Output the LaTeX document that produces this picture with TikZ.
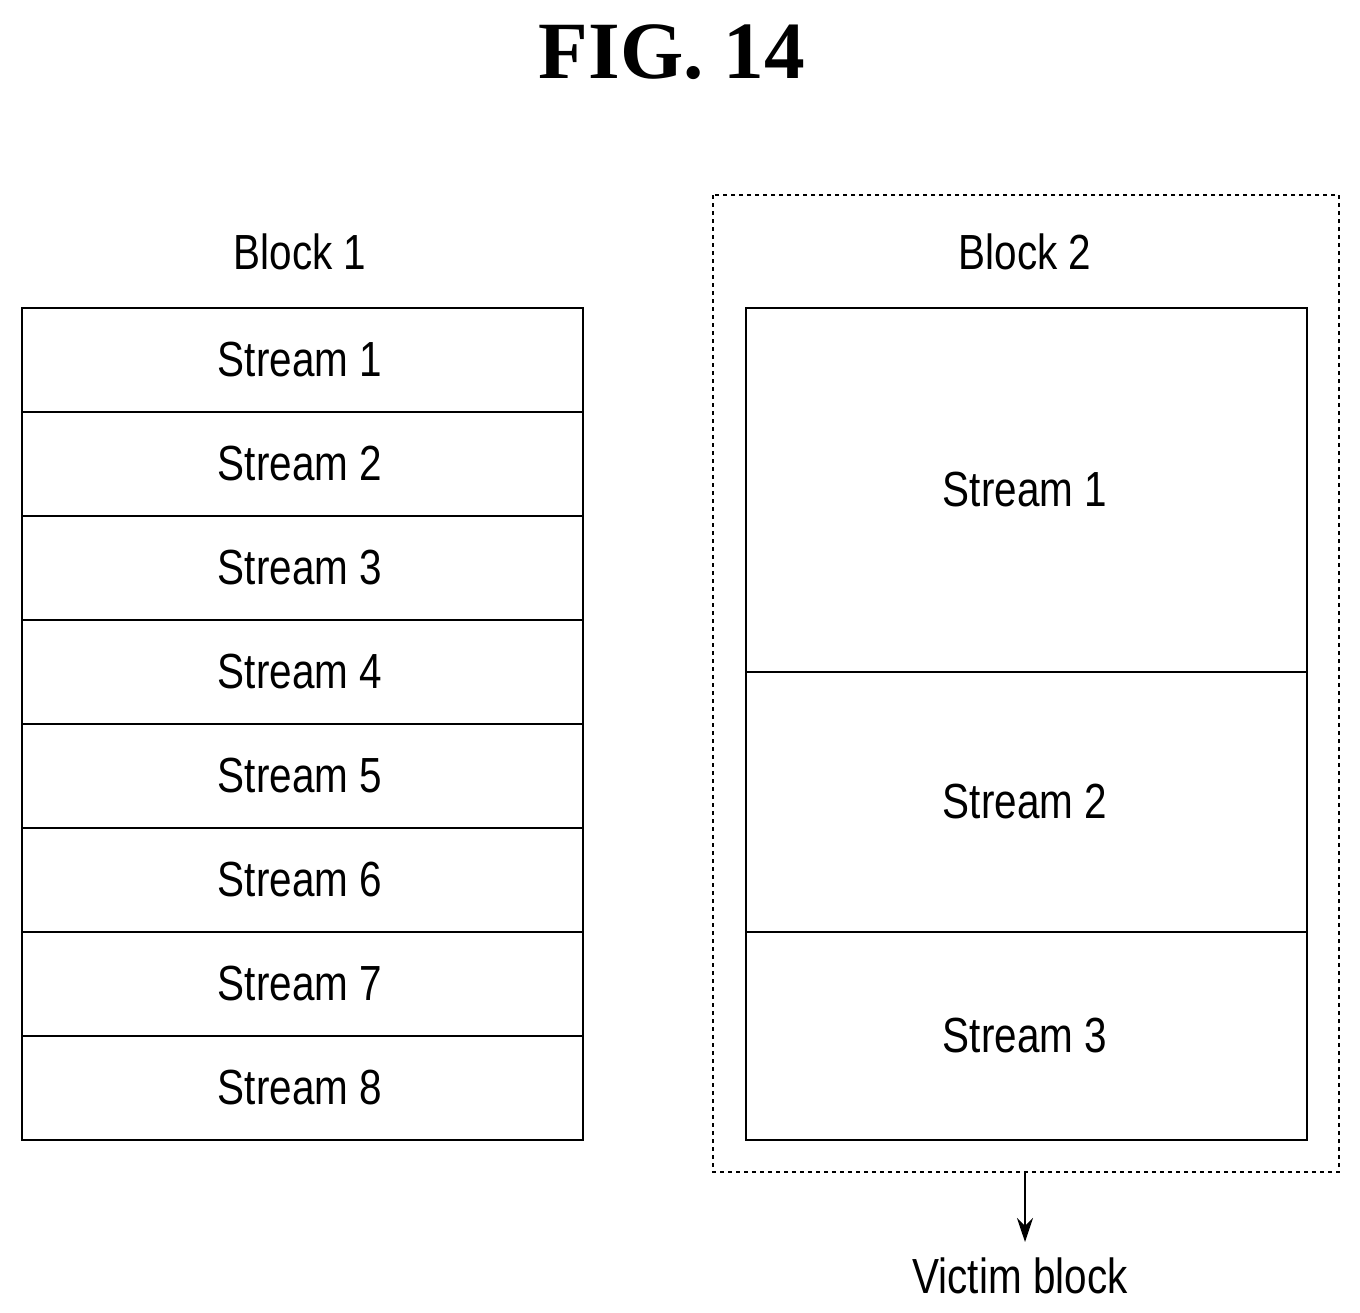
\documentclass[tikz,border=0pt]{standalone}
\usepackage{fontspec}
\usetikzlibrary{arrows.meta}
\setmainfont{Liberation Sans}
\newfontfamily\titlefont{Liberation Serif}
\begin{document}
\begin{tikzpicture}[x=0.75pt,y=-0.75pt,
  lbl/.style={font=\fontsize{37}{40}\selectfont, xscale=0.82},
  box/.style={draw, line width=1.5pt}]
\useasboundingbox (0,0) rectangle (1360,1313);
\node[font=\titlefont\bfseries\fontsize{61}{64}\selectfont] (title) at (672,52) {FIG. 14};
\node[lbl] (b1) at (300,252) {Block 1};
\foreach \i in {1,...,8}{
  \draw[box] (22,{308+(\i-1)*104}) rectangle (583,{308+\i*104});
  \node[lbl] (s1\i) at (300,{308+(\i-0.5)*104}) {Stream \i};
}
\draw[dashed, line width=0.8pt] (713,195) rectangle (1339,1172);
\coordinate (dboxs) at (1025,1172);
\node[lbl] (b2) at (1025,252) {Block 2};
\draw[box] (746,308) rectangle (1307,672);
\draw[box] (746,672) rectangle (1307,932);
\draw[box] (746,932) rectangle (1307,1140);
\node[lbl] (s21) at (1025,490) {Stream 1};
\node[lbl] (s22) at (1025,802) {Stream 2};
\node[lbl] (s23) at (1025,1036) {Stream 3};
\node[lbl] (victim) at (1020,1276) {Victim block};
\draw[line width=1.5pt,-{Stealth[length=18pt,width=12pt]}] (dboxs) -- (1025,1242);
\end{tikzpicture}
\end{document}
